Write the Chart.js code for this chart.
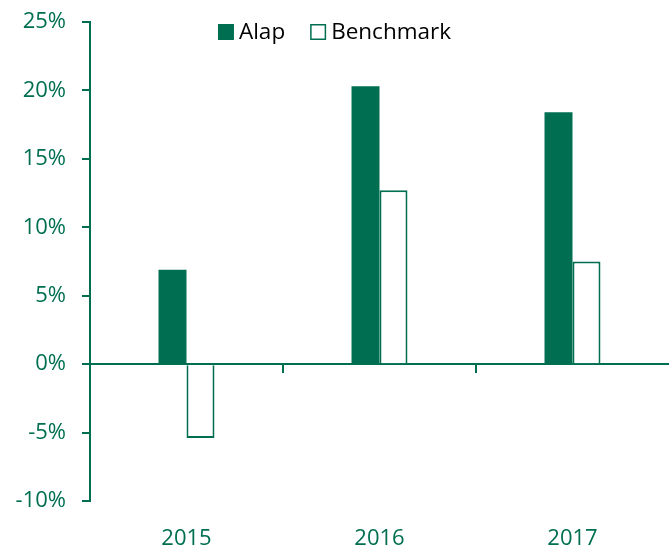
<!DOCTYPE html>
<html>
<head>
<meta charset="utf-8">
<script src="https://cdn.jsdelivr.net/npm/chart.js@4.4.1/dist/chart.umd.min.js"></script>
<style>
  html, body { margin: 0; padding: 0; background: #fff; }
  #wrap { width: 669px; height: 545px; position: relative; }
</style>
</head>
<body>
<div id="wrap"><canvas id="chart"></canvas></div>
<script>
const years = ['2015', '2016', '2017'];
const alap = [6.9, 20.3, 18.4];
const benchmark = [-5.4, 12.7, 7.5];
const yTicks = [-10, -5, 0, 5, 10, 15, 20, 25];

const green = '#006F51';
const fontFamily = "'Open Sans', 'Noto Sans', sans-serif";
const fontSize = 22;
const legendSize = 22.5;

// legend drawn inside the plot area, centred on the canvas, one row
const insideLegend = {
    id: 'insideLegend',
    afterDraw(chart) {
        const ctx = chart.ctx;
        const box = 16, gap = 5, itemGap = 25;
        ctx.save();
        ctx.font = legendSize + 'px ' + fontFamily;
        const items = chart.data.datasets.map(ds => ({
            ds: ds,
            w: box + gap + ctx.measureText(ds.label).width
        }));
        const total = items.reduce((a, it) => a + it.w, 0) + itemGap * (items.length - 1);
        let x = chart.width / 2 - total / 2;
        const y = chart.chartArea.top + 10;
        items.forEach(it => {
            ctx.fillStyle = it.ds.backgroundColor;
            ctx.fillRect(x, y - box / 2, box, box);
            if (it.ds.borderWidth) {
                ctx.strokeStyle = it.ds.borderColor;
                ctx.lineWidth = 1.5;
                ctx.strokeRect(x + 0.75, y - box / 2 + 0.75, box - 1.5, box - 1.5);
            }
            ctx.fillStyle = '#000';
            ctx.textBaseline = 'middle';
            ctx.textAlign = 'left';
            ctx.fillText(it.ds.label, x + box + gap, y + 1);
            x += it.w + itemGap;
        });
        ctx.restore();
    }
};

new Chart(document.getElementById('chart'), {
    type: 'bar',
    data: {
        labels: years,
        datasets: [
            {
                label: 'Alap',
                data: alap,
                backgroundColor: green,
                borderColor: green,
                borderWidth: 0
            },
            {
                label: 'Benchmark',
                data: benchmark,
                backgroundColor: '#ffffff',
                borderColor: green,
                borderWidth: 2
            }
        ]
    },
    plugins: [insideLegend],
    options: {
        responsive: true,
        maintainAspectRatio: false,
        animation: false,
        layout: { padding: { top: 22, right: 0, left: 0, bottom: 0 } },
        datasets: {
            bar: { categoryPercentage: 0.29, barPercentage: 1.0 }
        },
        plugins: {
            legend: { display: false },
            tooltip: { enabled: false }
        },
        scales: {
            x: {
                position: 'bottom',
                grid: { display: false },
                border: { display: false },
                ticks: {
                    color: green,
                    padding: 17,
                    font: { family: fontFamily, size: fontSize }
                },
                afterFit: (s) => {
                    s.height = 44;
                    s.paddingLeft = 0;
                    s.paddingRight = 0;
                }
            },
            zero: {
                axis: 'x',
                type: 'category',
                labels: years,
                position: { y: 0 },
                offset: true,
                grid: {
                    offset: true,
                    drawOnChartArea: false,
                    drawTicks: true,
                    tickLength: 8,
                    // only the ticks between years, none at the two edges
                    color: (c) => (c.index > 0 && c.index < years.length) ? green : 'rgba(0,0,0,0)',
                    lineWidth: 2
                },
                border: { display: true, color: green, width: 2 },
                ticks: { display: false }
            },
            y: {
                min: -10,
                max: 25,
                afterBuildTicks: (s) => { s.ticks = yTicks.map(v => ({ value: v })); },
                grid: {
                    drawOnChartArea: false,
                    drawTicks: true,
                    tickLength: 8,
                    color: green,
                    lineWidth: 2
                },
                border: { display: true, color: green, width: 2 },
                ticks: {
                    color: green,
                    padding: 16,
                    font: { family: fontFamily, size: fontSize },
                    callback: (v) => v + '%'
                },
                afterFit: (s) => {
                    s.width = 90;
                    s.paddingTop = 0;
                    s.paddingBottom = 0;
                }
            }
        }
    }
});
</script>
</body>
</html>
